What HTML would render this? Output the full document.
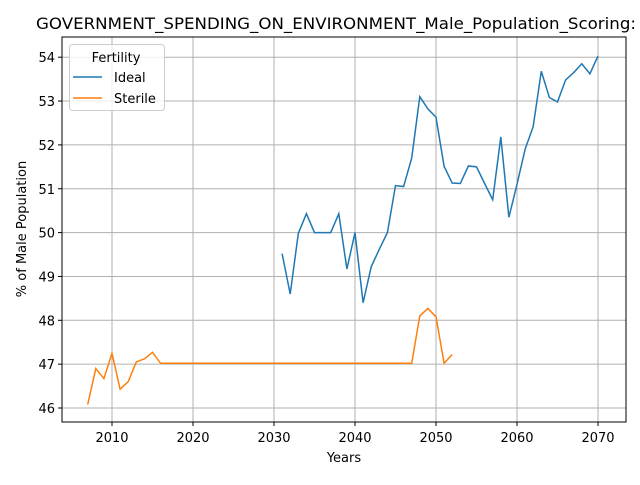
<!DOCTYPE html>
<html><head><meta charset="utf-8"><style>body{margin:0;background:#fff}svg text{font-family:"DejaVu Sans","Liberation Sans",sans-serif}</style></head>
<body>
<svg id="c" width="640" height="480" xmlns="http://www.w3.org/2000/svg"></svg>
<script>
const idealYears=[2031,2032,2033,2034,2035,2036,2037,2038,2039,2040,2041,2042,2043,2044,2045,2046,2047,2048,2049,2050,2051,2052,2053,2054,2055,2056,2057,2058,2059,2060,2061,2062,2063,2064,2065,2066,2067,2068,2069,2070];
const idealValues=[49.52,48.6,49.98,50.43,50.0,50.0,50.0,50.43,49.17,50.0,48.4,49.22,49.62,50.0,51.07,51.05,51.7,53.1,52.82,52.63,51.51,51.13,51.12,51.52,51.5,51.12,50.75,52.18,50.35,51.1,51.9,52.42,53.68,53.08,52.98,53.48,53.65,53.85,53.62,54.03];
const sterileYears=[2007,2008,2009,2010,2011,2012,2013,2014,2015,2016,2017,2018,2019,2020,2021,2022,2023,2024,2025,2026,2027,2028,2029,2030,2031,2032,2033,2034,2035,2036,2037,2038,2039,2040,2041,2042,2043,2044,2045,2046,2047,2048,2049,2050,2051,2052];
const sterileValues=[46.08,46.9,46.67,47.25,46.43,46.6,47.05,47.12,47.27,47.02,47.02,47.02,47.02,47.02,47.02,47.02,47.02,47.02,47.02,47.02,47.02,47.02,47.02,47.02,47.02,47.02,47.02,47.02,47.02,47.02,47.02,47.02,47.02,47.02,47.02,47.02,47.02,47.02,47.02,47.02,47.02,48.1,48.27,48.08,47.02,47.22];
const xTicks=[2010,2020,2030,2040,2050,2060,2070];
const yTicks=[46,47,48,49,50,51,52,53,54];
const L=62,R=626,T=37,B=422;
const xs=v=>112+(v-2010)*8.1;
const ys=v=>408-(v-46)*43.85;
const svg=document.getElementById('c');const NS='http://www.w3.org/2000/svg';
function mk(t,a,p){const e=document.createElementNS(NS,t);for(const k in a)e.setAttribute(k,a[k]);(p||svg).appendChild(e);return e;}
const g=mk('g',{});


xTicks.forEach(t=>{const x=xs(t);mk('line',{x1:x,x2:x,y1:T,y2:B,stroke:'#b0b0b0','stroke-width':1},g);mk('line',{x1:x,x2:x,y1:B,y2:B+4,stroke:'#000'});
const tx=mk('text',{x:x,y:B+20,'text-anchor':'middle','font-size':13});tx.textContent=t;

});
yTicks.forEach(t=>{const y=ys(t);mk('line',{x1:L,x2:R,y1:y,y2:y,stroke:'#b0b0b0','stroke-width':1},g);mk('line',{x1:L-4,x2:L,y1:y,y2:y,stroke:'#000'});
const tx=mk('text',{x:L-7,y:y+5,'text-anchor':'end','font-size':13});tx.textContent=t;

});
function line(xa,va,c,n){const p=mk('polyline',{points:xa.map((x,i)=>xs(x)+','+ys(va[i])).join(' '),fill:'none',stroke:c,'stroke-width':1.5});

}
line(idealYears,idealValues,'#1f77b4','ideal-line');
line(sterileYears,sterileValues,'#ff7f0e','sterile-line');
const fr=mk('rect',{x:L,y:T,width:R-L,height:B-T,fill:'none',stroke:'#000','stroke-width':1});


</script>
<svg width="640" height="480" style="position:absolute;left:0;top:0" xmlns="http://www.w3.org/2000/svg">
<text x="36" y="29" font-size="16" textLength="600" lengthAdjust="spacingAndGlyphs">GOVERNMENT_SPENDING_ON_ENVIRONMENT_Male_Population_Scoring:</text>
<text x="344" y="462" text-anchor="middle" font-size="13">Years</text>
<text transform="translate(26,229) rotate(-90)" text-anchor="middle" font-size="13">% of Male Population</text>
<g>
<rect x="69.5" y="44.5" width="95" height="66" rx="3" fill="#fff" fill-opacity="0.8" stroke="#ccc"/>
<text x="116" y="62" text-anchor="middle" font-size="13">Fertility</text>
<line x1="73" x2="102" y1="77" y2="77" stroke="#1f77b4" stroke-width="1.5"/>
<text x="114" y="82" font-size="13">Ideal</text>
<line x1="73" x2="102" y1="98" y2="98" stroke="#ff7f0e" stroke-width="1.5"/>
<text x="114" y="103" font-size="13">Sterile</text>
</g>
</svg>
</body></html>
